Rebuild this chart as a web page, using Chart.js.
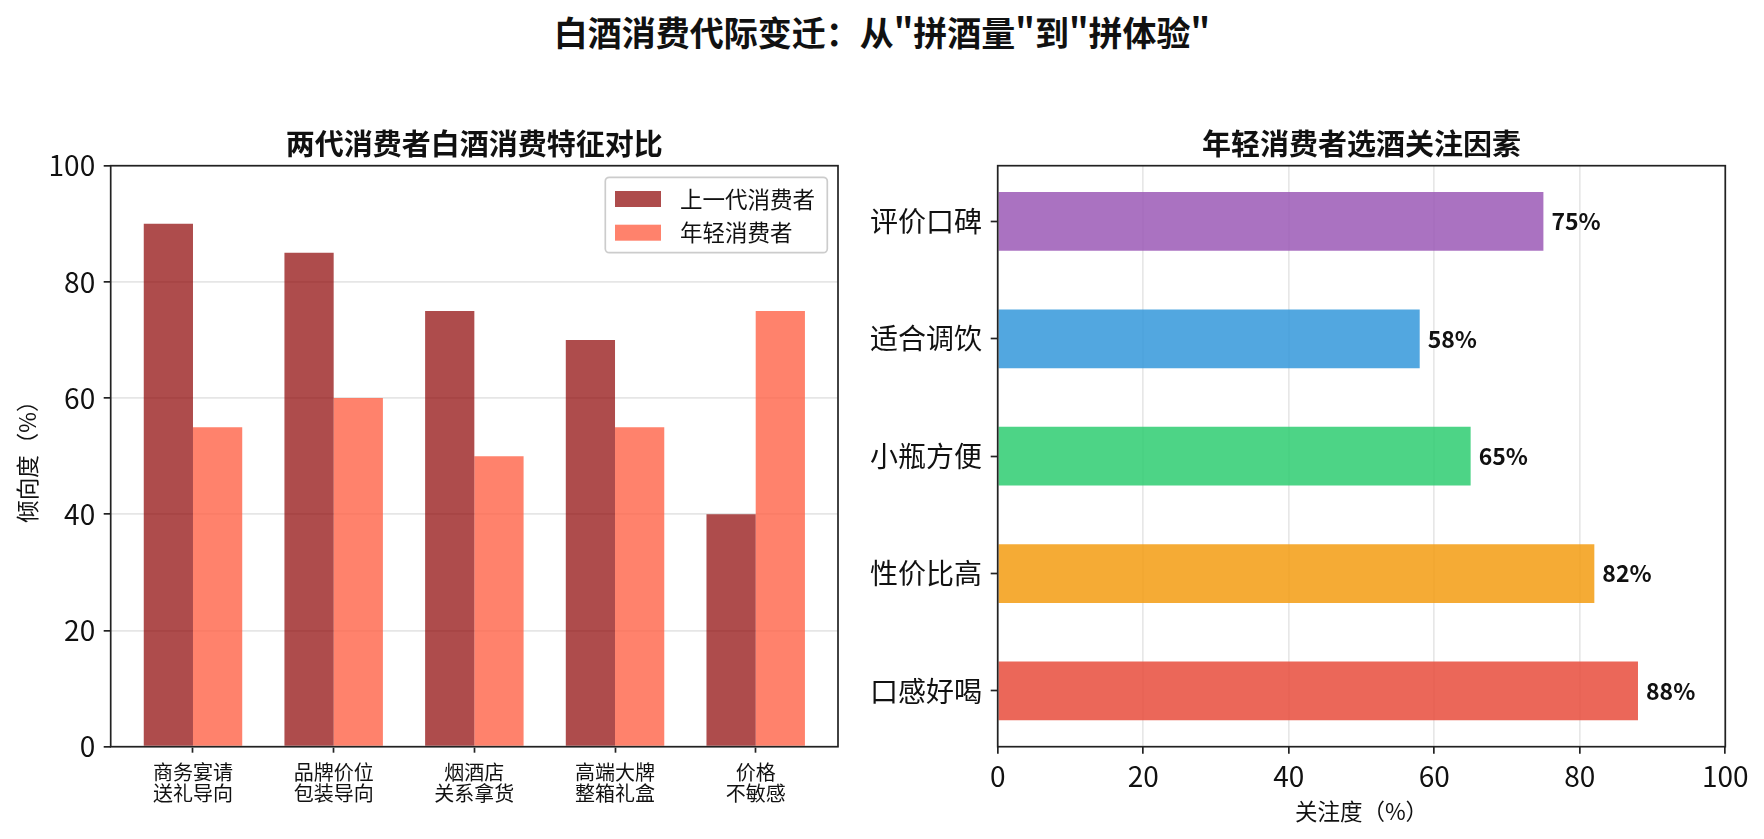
<!DOCTYPE html>
<html lang="zh">
<head>
<meta charset="utf-8">
<title>白酒消费代际变迁</title>
<script src="https://cdn.jsdelivr.net/npm/chart.js@4.4.1/dist/chart.umd.min.js"></script>
<style>
  html, body { margin: 0; padding: 0; background: #fff; overflow: hidden; }
  #page { position: relative; width: 1764px; height: 839px; overflow: hidden; }
  #suptitle {
    position: absolute; left: 0; top: 13px; width: 1764px; text-align: center;
    font: bold 34px 'Noto Sans CJK SC', sans-serif; line-height: 37px; color: #111;
  }
  #left { position: absolute; left: 0; top: 100px; }
  #right { position: absolute; left: 780px; top: 100px; }
</style>
</head>
<body>
<div id="page">
  <div id="suptitle">白酒消费代际变迁：从"拼酒量"到"拼体验"</div>
  <canvas id="left" width="880" height="739"></canvas>
  <canvas id="right" width="984" height="739"></canvas>
</div>
<script>
// data
const generations = ['上一代消费者', '年轻消费者'];
const traits = [
  ['商务宴请', '送礼导向'],
  ['品牌价位', '包装导向'],
  ['烟酒店', '关系拿货'],
  ['高端大牌', '整箱礼盒'],
  ['价格', '不敏感']
];
const olderValues = [90, 85, 75, 70, 40];
const youngerValues = [55, 60, 50, 55, 75];

// bottom to top, as in the picture
const factors = ['口感好喝', '性价比高', '小瓶方便', '适合调饮', '评价口碑'];
const factorValues = [88, 82, 65, 58, 75];
const factorColors = [
  'rgba(231,76,60,0.85)',
  'rgba(243,156,18,0.85)',
  'rgba(46,204,113,0.85)',
  'rgba(52,152,219,0.85)',
  'rgba(155,89,182,0.85)'
];

Chart.defaults.font.family = "'Noto Sans CJK SC', 'Noto Sans', sans-serif";
Chart.defaults.color = '#111';

// box round the plot like matplotlib spines
const framePlugin = {
  id: 'frame',
  afterDraw(chart) {
    const { ctx, chartArea: a } = chart;
    ctx.save();
    ctx.strokeStyle = '#222';
    ctx.lineWidth = 1.7;
    ctx.strokeRect(a.left, a.top, a.right - a.left, a.bottom - a.top);
    ctx.restore();
  }
};

// legend drawn inside the plot, top right
const legendBoxPlugin = {
  id: 'legendBox',
  afterDraw(chart) {
    const { ctx, chartArea: a } = chart;
    const left = a.right - 232.7, top = a.top + 11.6, w = 222, h = 75.4;
    ctx.save();
    ctx.fillStyle = 'rgba(255,255,255,0.8)';
    ctx.strokeStyle = '#cccccc';
    ctx.lineWidth = 1.7;
    ctx.beginPath();
    ctx.roundRect(left, top, w, h, 4);
    ctx.fill();
    ctx.stroke();
    ctx.font = "22.5px 'Noto Sans CJK SC'";
    ctx.textBaseline = 'middle';
    ctx.textAlign = 'left';
    chart.data.datasets.forEach((ds, i) => {
      const cy = top + 21.7 + i * 33.7;
      ctx.fillStyle = ds.backgroundColor;
      ctx.fillRect(left + 9.7, cy - 8, 46, 16);
      ctx.fillStyle = '#111';
      ctx.fillText(ds.label, left + 74.7, cy);
    });
    ctx.restore();
  }
};

// percent text at the end of each horizontal bar
const valueLabelPlugin = {
  id: 'valueLabels',
  afterDraw(chart) {
    const { ctx } = chart;
    const meta = chart.getDatasetMeta(0);
    ctx.save();
    ctx.font = "bold 23px 'Noto Sans CJK SC'";
    ctx.fillStyle = '#111';
    ctx.textBaseline = 'middle';
    ctx.textAlign = 'left';
    meta.data.forEach((bar, i) => {
      ctx.fillText(factorValues[i] + '%', bar.x + 8, bar.y);
    });
    ctx.restore();
  }
};

function indexTicks(count) {
  return scale => {
    scale.ticks = Array.from({ length: count }, (_, i) => ({ value: i }));
  };
}

new Chart(document.getElementById('left'), {
  type: 'bar',
  data: {
    datasets: [
      {
        label: generations[0],
        data: olderValues.map((v, i) => ({ x: i, y: v })),
        backgroundColor: 'rgba(139,0,0,0.7)'
      },
      {
        label: generations[1],
        data: youngerValues.map((v, i) => ({ x: i, y: v })),
        backgroundColor: 'rgba(255,99,71,0.8)'
      }
    ]
  },
  options: {
    responsive: false,
    animation: false,
    categoryPercentage: 0.7,
    barPercentage: 1.0,
    layout: { padding: { left: 0, right: 42, top: 0, bottom: 0 } },
    plugins: {
      legend: { display: false },
      tooltip: { enabled: false },
      title: {
        display: true,
        fullSize: false,
        text: '两代消费者白酒消费特征对比',
        color: '#111',
        font: { size: 29, weight: 'bold' },
        padding: { top: 26.6, bottom: 4.3 }
      }
    },
    scales: {
      x: {
        type: 'linear',
        min: -0.585,
        max: 4.585,
        bounds: 'data',
        offset: false,
        afterBuildTicks: indexTicks(traits.length),
        afterFit: s => { s.height = 92.3; },
        grid: { offset: false, drawOnChartArea: false, tickLength: 6, tickWidth: 1.7, tickColor: '#222' },
        border: { display: false },
        ticks: {
          font: { size: 20, lineHeight: 1.05 },
          padding: 8.8,
          maxRotation: 0,
          autoSkip: false,
          callback: v => traits[v]
        }
      },
      y: {
        min: 0,
        max: 100,
        afterFit: s => { s.width = 110.7; },
        ticks: { stepSize: 20, font: { size: 28 }, padding: 8.5 },
        grid: { color: '#e6e6e6', lineWidth: 1.7, tickLength: 7, tickWidth: 1.7, tickColor: '#222' },
        border: { display: false },
        title: {
          display: true,
          text: '倾向度（%）',
          font: { size: 22.5 },
          padding: { top: 13.5, bottom: 0 }
        }
      }
    }
  },
  plugins: [framePlugin, legendBoxPlugin]
});

new Chart(document.getElementById('right'), {
  type: 'bar',
  data: {
    datasets: [{
      label: '关注度',
      data: factorValues.map((v, i) => ({ x: v, y: i })),
      backgroundColor: factorColors
    }]
  },
  options: {
    responsive: false,
    animation: false,
    indexAxis: 'y',
    categoryPercentage: 0.5,
    barPercentage: 1.0,
    layout: { padding: { left: 0, right: 38.7, top: 0, bottom: 0 } },
    plugins: {
      legend: { display: false },
      tooltip: { enabled: false },
      title: {
        display: true,
        fullSize: false,
        text: '年轻消费者选酒关注因素',
        color: '#111',
        font: { size: 29, weight: 'bold' },
        padding: { top: 26.6, bottom: 4.3 }
      }
    },
    scales: {
      y: {
        type: 'linear',
        min: -0.475,
        max: 4.475,
        bounds: 'data',
        offset: false,
        afterBuildTicks: indexTicks(factors.length),
        afterFit: s => { s.width = 217.7; },
        grid: { offset: false, drawOnChartArea: false, tickLength: 7, tickWidth: 1.7, tickColor: '#222' },
        border: { display: false },
        ticks: {
          font: { size: 28 },
          padding: 8.7,
          autoSkip: false,
          callback: v => factors[v]
        }
      },
      x: {
        min: 0,
        max: 100,
        z: 1,
        afterFit: s => { s.height = 92.3; },
        ticks: { stepSize: 20, font: { size: 28 }, padding: 6.2 },
        grid: { color: 'rgba(176,176,176,0.3)', lineWidth: 1.7, tickLength: 7, tickWidth: 1.7, tickColor: '#222' },
        border: { display: false },
        title: {
          display: true,
          text: '关注度（%）',
          font: { size: 22.5 },
          padding: { top: 0, bottom: 14.5 }
        }
      }
    }
  },
  plugins: [framePlugin, valueLabelPlugin]
});
</script>
</body>
</html>
